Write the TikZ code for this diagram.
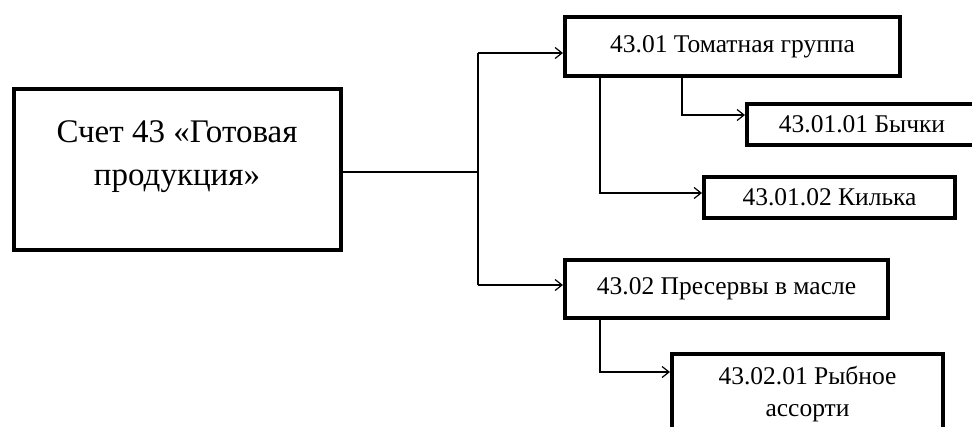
\documentclass[tikz,border=0pt]{standalone}
\usepackage{fontspec}
\setmainfont{Liberation Serif}
\usetikzlibrary{arrows.meta}
\begin{document}
\begin{tikzpicture}[x=1pt,y=-1pt,
  box/.style={draw=black,line width=4pt,inner sep=0pt,rectangle,fill=none},
  arr/.style={line width=1.2pt,-{Straight Barb[length=7pt,width=11pt,line width=1.2pt]}},
  ln/.style={line width=1.2pt},
  small/.style={font=\fontsize{25.5}{32}\selectfont},
  big/.style={font=\fontsize{33}{43}\selectfont}]
\useasboundingbox (0,0) rectangle (972,426);
\clip (0,0) rectangle (972,426);
\node[box,minimum width=327pt,minimum height=161pt] (main) at (177.5,169.5) {};
\node[big,align=center,inner sep=0pt] (maintext) at (177,157) {Счет 43 «Готовая\\продукция»};
\node[box,small,minimum width=335pt,minimum height=59pt] (t1) at (732.5,46.5) {43.01 Томатная группа};
\node[box,small,minimum width=230pt,minimum height=41pt] (b1) at (862,124.5) {43.01.01 Бычки};
\node[box,small,minimum width=251pt,minimum height=41pt] (b2) at (829.5,197.5) {43.01.02 Килька};
\node[box,small,minimum width=323pt,minimum height=58pt] (t2) at (726.5,289) {43.02 Пресервы в масле};
\node[box,small,align=center,minimum width=271pt,minimum height=80pt] (c1) at (807.5,394) {43.02.01 Рыбное\\ассорти};
\coordinate (j) at (478,172);
\draw[ln] (main.east |- j) -- (j);
\draw[ln] (j) -- (478,53);
\draw[ln] (j) -- (478,285);
\draw[arr] (478,53) -- ([yshift=-6.5pt]t1.west);
\draw[arr] (478,285) -- ([yshift=4pt]t2.west);
\draw[arr] ([xshift=-50.5pt]t1.south) |- ([yshift=9.5pt]b1.west);
\draw[arr] ([xshift=-132.5pt]t1.south) |- ([yshift=4.5pt]b2.west);
\draw[arr] ([xshift=-126.5pt]t2.south) |- ([yshift=22pt]c1.west);
\end{tikzpicture}
\end{document}
